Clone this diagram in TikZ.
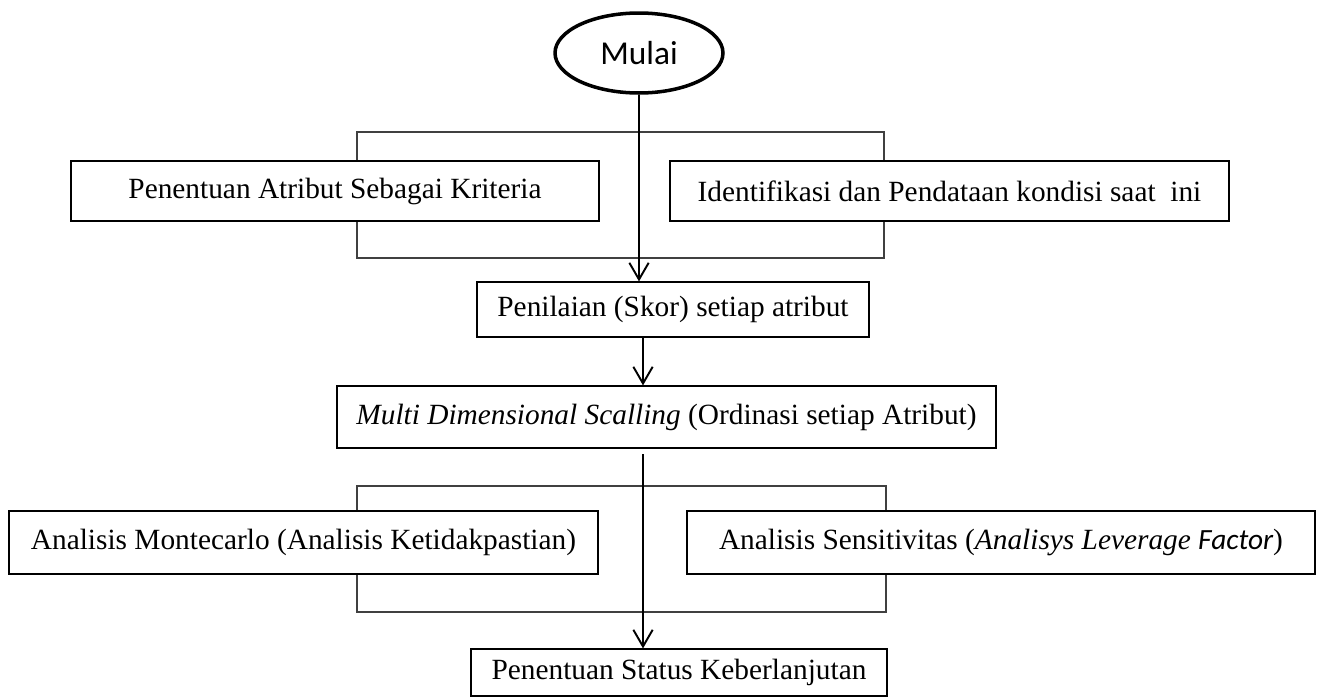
\documentclass[tikz,border=0pt]{standalone}
\usepackage{fontspec}
\setmainfont{Liberation Serif}[ItalicFont={Liberation Serif Italic}, BoldFont={Liberation Serif Bold}]
\newfontfamily\calibri{Carlito}[ItalicFont={Carlito Italic}]
\usepackage{tikz}
\usetikzlibrary{arrows.meta,positioning,shapes.geometric,calc}

\tikzset{
  stepbox/.style={draw, fill=white, line width=0.7pt, inner sep=0pt, font=\fontsize{16.7}{20}\selectfont},
  startnode/.style={ellipse, draw, line width=2pt, fill=white, inner sep=0pt, font=\calibri\fontsize{19}{22}\selectfont},
  frame/.style={draw=black!75, line width=0.75pt},
  flow/.style={->, line width=1.1pt}
}

\begin{document}
\begin{tikzpicture}[x=0.02cm, y=-0.02cm, >={Straight Barb[length=9.5pt, width=11pt, line width=1.1pt]}]
\useasboundingbox (0,0) rectangle (1322,697);

  % Frames behind the parallel steps
\draw[frame] (357,132) rectangle (884,258); \draw[frame] (357,486) rectangle (886,612);

  % Define nodes
\node[startnode, minimum width=3.36cm, minimum height=1.6cm] (start) at (639,53) {Mulai};
\node[stepbox, minimum width=10.56cm, minimum height=1.2cm] (krit) at (335,191) {Penentuan Atribut Sebagai Kriteria};
\node[stepbox, minimum width=11.18cm, minimum height=1.2cm] (ident) at (949.5,191) {Identifikasi dan Pendataan kondisi saat\ \ ini};
\node[stepbox, minimum width=7.84cm, minimum height=1.1cm] (nilai) at (673,309.5) {Penilaian (Skor) setiap atribut};
\node[stepbox, minimum width=13.18cm, minimum height=1.24cm] (mds) at (666.5,417) {\textit{Multi Dimensional Scalling} (Ordinasi setiap Atribut)};
\node[stepbox, minimum width=11.78cm, minimum height=1.26cm] (monte) at (303.5,542.5) {Analisis Montecarlo (Analisis Ketidakpastian)};
\node[stepbox, minimum width=12.56cm, minimum height=1.26cm] (sens) at (1001,542.5) {Analisis Sensitivitas (\textit{Analisys Leverage} {\calibri\itshape Factor})};
\node[stepbox, minimum width=8.32cm, minimum height=0.94cm] (status) at (679,672.5) {Penentuan Status Keberlanjutan};
\coordinate (split) at (643,454);

  % Draw arrows between nodes
\draw[flow] (start) -- (start |- nilai.north); \draw[flow] (nilai.south -| split) -- (mds.north -| split); \draw[flow] (split) -- (split |- status.north);

\end{tikzpicture}
\end{document}
